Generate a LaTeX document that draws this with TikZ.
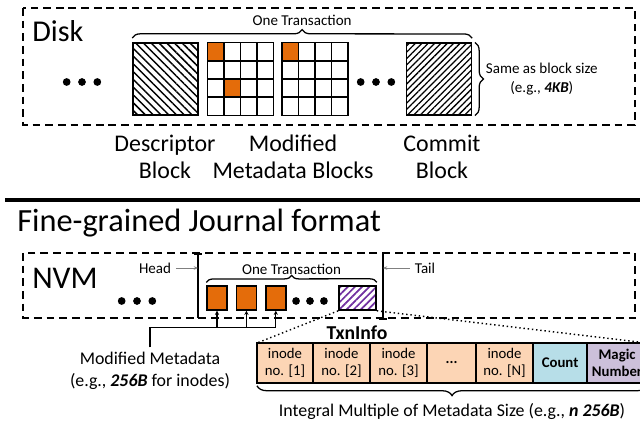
\documentclass[tikz,border=0pt]{standalone}
\usepackage{fontspec}
\setmainfont{Carlito}
\usepackage{xcolor}
\usetikzlibrary{positioning, arrows.meta, patterns.meta, decorations.pathreplacing, calc}

\definecolor{metaorange}{RGB}{228,108,10}
\definecolor{cellpeach}{RGB}{252,213,181}
\definecolor{cellblue}{RGB}{183,222,232}
\definecolor{celllilac}{RGB}{204,192,218}
\definecolor{hatchpurple}{RGB}{112,48,160}

\tikzset{
  region/.style={draw, line width=1.1pt, dash pattern=on 5.5pt off 3.5pt},
  blockbox/.style={draw, line width=1.1pt, minimum width=1.625cm, minimum height=1.8cm, inner sep=0pt},
  descblk/.style={blockbox, pattern={Lines[angle=-45, distance=3.9pt, line width=1.1pt]}},
  commitblk/.style={blockbox, pattern={Lines[angle=45, distance=3.2pt, line width=0.9pt]}},
  metablk/.style={minimum width=1.625cm, minimum height=1.8cm, inner sep=0pt},
  entry/.style={draw, line width=1pt, fill=metaorange, minimum width=0.5cm, minimum height=0.6cm, inner sep=0pt},
  txnblk/.style={draw, line width=1pt, minimum width=0.925cm, minimum height=0.6cm, inner sep=0pt,
                 pattern={Lines[angle=45, distance=3.6pt, line width=1.2pt]}, pattern color=hatchpurple},
  cell/.style={draw, line width=0.9pt, fill=cellpeach, minimum height=1cm, inner sep=0pt, outer sep=0pt,
               align=center, font=\fontsize{10.5}{12}\selectfont},
  brace/.style={decorate, decoration={brace, amplitude=6pt}, line width=0.9pt},
  caption/.style={align=center, font=\fontsize{17}{19.5}\selectfont},
  note/.style={align=center, font=\fontsize{10.7}{13.5}\selectfont},
  bignote/.style={align=center, font=\fontsize{12.7}{15.6}\selectfont},
  title/.style={anchor=base west, inner sep=0pt, font=\fontsize{21.5}{24}\selectfont},
  ptr/.style={-{Stealth[length=3pt,width=2.5pt]}, gray, line width=0.6pt},
  marker/.style={line width=1.3pt},
  zoomline/.style={dotted, line width=1pt},
  feed/.style={-{Stealth[length=3pt,width=3pt]}, line width=0.8pt},
  dot/.style={circle, fill, inner sep=0pt, minimum size=5.5pt},
}

\begin{document}
\begin{tikzpicture}[x=0.025cm, y=-0.025cm]
  \useasboundingbox (0,0) rectangle (640,427);

  % ---- disk journal ----
  \draw[region] (23,8) rectangle (635,125);
  \node[title] (disk) at (32,42) {Disk};

  \node[dot] (d2) at (82,82) {};
  \node[dot, left=5pt of d2] (d1) {};
  \node[dot, right=5pt of d2] (d3) {};

  \node[descblk] (desc) at (165.5,79) {};
  \node[metablk] (meta1) at (240.5,79) {};
  \node[metablk] (meta2) at (315,79) {};
  \node[commitblk] (commit) at (439,79) {};

  % dirty cells, then the 4x4 grid on top
  \fill[metaorange] (meta1.north west) rectangle +(16.25,18);
  \fill[metaorange] ($(meta1.north west)+(16.25,36)$) rectangle +(16.25,18);
  \fill[metaorange] (meta2.north west) rectangle +(16.25,18);
  \foreach \blk in {meta1,meta2}{
    \foreach \i in {1,2,3}{
      \draw[line width=1pt] ($(\blk.north west)!\i/4!(\blk.north east)$) -- ($(\blk.south west)!\i/4!(\blk.south east)$);
      \draw[line width=1pt] ($(\blk.north west)!\i/4!(\blk.south west)$) -- ($(\blk.north east)!\i/4!(\blk.south east)$);
    }
    \draw[line width=1.1pt] (\blk.north west) rectangle (\blk.south east);
  }

  \node[dot] (e2) at (376,82) {};
  \node[dot, left=5pt of e2] (e1) {};
  \node[dot, right=5pt of e2] (e3) {};

  \draw[brace] ([yshift=3pt]desc.north west) -- ([yshift=3pt]commit.north east)
    node[midway, above=5pt, note] (txn1) {One Transaction};
  \draw[brace] ([xshift=2pt]commit.north east) -- ([xshift=2pt]commit.south east)
    node[midway, right=4pt, note] (bsize) {Same as block size\\(e.g., \textbf{\textit{4KB}})};

  \node[caption] (desccap) at (165,157) {Descriptor\\Block};
  \node[caption] (metacap) at (293,157) {Modified\\Metadata Blocks};
  \node[caption] (commcap) at (442,157) {Commit\\Block};

  \draw[line width=2.2pt] (5,200) -- (640,200);

  % ---- fine-grained journal ----
  \node[title, font=\fontsize{23}{26}\selectfont] (fgj) at (17,232) {Fine-grained Journal format};

  \draw[region] (23,253) rectangle (635,318);
  \node[title, font=\fontsize{22.5}{25}\selectfont] (nvm) at (32,288) {NVM};

  \node[dot] (n2) at (137,301) {};
  \node[dot, left=5pt of n2] (n1) {};
  \node[dot, right=5pt of n2] (n3) {};

  \node[entry] (entry1) at (217,298) {};
  \node[entry, right=0.2cm of entry1] (entry2) {};
  \node[entry, right=0.2cm of entry2] (entry3) {};
  \node[dot] (m2) at (310,301) {};
  \node[dot, left=4pt of m2] (m1) {};
  \node[dot, right=4pt of m2] (m3) {};
  \node[txnblk] (txn) at (357.5,298) {};

  \draw[brace, decoration={amplitude=5pt}] ([yshift=2pt]entry1.north west) -- ([yshift=2pt]txn.north east)
    node[midway, above=2pt, note] (txn2) {One Transaction};

  % head / tail pointers
  \coordinate (headtop) at (198,253);
  \coordinate (headbot) at (198,318);
  \coordinate (tailtop) at (383,254);
  \coordinate (tailbot) at (383,320);
  \draw[marker, {Bar[width=5pt]}-] (headtop) -- (headbot);
  \draw[marker, -{Bar[width=5pt]}] (tailtop) -- (tailbot);
  \node[note] (head) at (155,268) {Head};
  \node[note] (tail) at (425,268) {Tail};
  \draw[ptr] (head.east) -- (head.east -| headtop);
  \draw[ptr] (tail.west) -- (tail.west -| tailtop);

  % metadata entries
  \node[bignote] (mmeta) at (150,371) {Modified Metadata\\(e.g., \textbf{\textit{256B}} for inodes)};
  \coordinate (busend) at ($(entry3.south)+(0,17)$);
  \draw[line width=0.8pt] (mmeta.north) |- (busend);
  \foreach \e in {entry1,entry2,entry3}
    \draw[feed] (\e.south |- busend) -- (\e.south);

  % TxnInfo layout
  \node[cell, minimum width=1.4cm] (ino1) at (285,363) {inode\\no. [1]};
  \node[cell, minimum width=1.425cm, right=0pt of ino1] (ino2) {inode\\no. [2]};
  \node[cell, minimum width=1.425cm, right=0pt of ino2] (ino3) {inode\\no. [3]};
  \node[cell, minimum width=1.225cm, right=0pt of ino3] (inodots) {\textbf{...}};
  \node[cell, minimum width=1.425cm, right=0pt of inodots] (inoN) {inode\\no. [N]};
  \node[cell, minimum width=1.35cm, fill=cellblue, right=0pt of inoN] (count) {\textbf{Count}};
  \node[cell, minimum width=1.5cm, fill=celllilac, right=0pt of count] (magic) {\textbf{Magic}\\\textbf{Number}};

  \node[font=\bfseries\fontsize{14}{16}\selectfont] (txninfo) at (357,333) {TxnInfo};

  \draw[zoomline] (txn.south west) -- (ino1.north west);
  \draw[zoomline] (txn.south east) -- (magic.north east);

  \draw[brace, decoration={amplitude=7pt}] ([yshift=-2pt]magic.south east) -- ([yshift=-2pt]ino1.south west)
    node[midway, below=9pt, bignote] (size) {Integral Multiple of Metadata Size (e.g., \textbf{\textit{n 256B}})};
\end{tikzpicture}
\end{document}
